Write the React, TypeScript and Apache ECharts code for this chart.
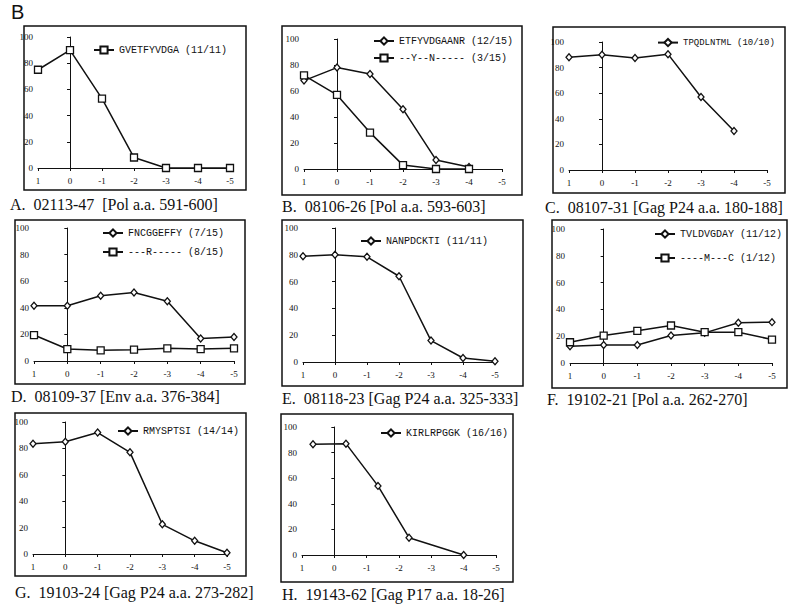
import React, { useEffect, useRef } from "react";
import * as echarts from "echarts";

// ---- data ----
const xTicks = [1, 0, -1, -2, -3, -4, -5];
const yTicks = [0, 20, 40, 60, 80, 100];

const aX = [1, 0, -1, -2, -3, -4, -5];
const aGVETFYVDGA = [75, 90, 53, 8, 0, 0, 0];

const bX = [1, 0, -1, -2, -3, -4];
const bETFYVDGAANR = [68, 78, 73, 46, 7, 1.5];
const bVariant = [72, 57, 28, 3, 0, 0];

const cX = [1, 0, -1, -2, -3, -4];
const cTPQDLNTML = [88, 90, 87.5, 90.5, 57, 30.5];

const dX = [1, 0, -1, -2, -3, -4, -5];
const dFNCGGEFFY = [41.5, 41.5, 49, 51.5, 45, 17, 18];
const dVariant = [19.5, 9, 8, 8.5, 9.5, 9, 9.5];

const eX = [1, 0, -1, -2, -3, -4, -5];
const eNANPDCKTI = [79, 80, 78.5, 64, 16, 3, 0.5];

const fX = [1, 0, -1, -2, -3, -4, -5];
const fTVLDVGDAY = [12.5, 13.5, 13.5, 20.5, 22.5, 30, 30.5];
const fVariant = [15.5, 20.5, 24, 28, 23, 23, 17.5];

const gX = [1, 0, -1, -2, -3, -4, -5];
const gRMYSPTSI = [83.5, 85, 92, 77, 22.5, 10, 1];

const hX = [0.66, -0.36, -1.35, -2.31, -4];
const hKIRLRPGGK = [86.5, 87, 54, 13.5, 0];

type S = { name: string; xs: number[]; ys: number[]; symbol: string; size: number | number[] };
type Panel = {
  series: S[];
  grid: [number, number, number, number];
  box: [number, number, number, number];
  caption: string;
  capPos: [number, number];
  legendPos: [number, number];
  legendGap: number;
  legendFont: number;
};

const panels: Panel[] = [
  {
    series: [{ name: "GVETFYVDGA (11/11)", xs: aX, ys: aGVETFYVDGA, symbol: "rect", size: 7 }],
    grid: [38, 37, 192, 131], box: [24, 26, 246, 190],
    caption: "A.  02113-47  [Pol a.a. 591-600]", capPos: [10, 204], legendPos: [88, 40],
    legendGap: 7, legendFont: 10,
  },
  {
    series: [
      { name: "ETFYVDGAANR (12/15)", xs: bX, ys: bETFYVDGAANR, symbol: "diamond", size: [6, 7] },
      { name: "--Y--N----- (3/15)", xs: bX, ys: bVariant, symbol: "rect", size: 7 },
    ],
    grid: [304, 39, 198, 130], box: [282, 26, 522, 195],
    caption: "B.  08106-26 [Pol a.a. 593-603]", capPos: [282, 206], legendPos: [368, 31],
    legendGap: 7, legendFont: 10,
  },
  {
    series: [{ name: "TPQDLNTML (10/10)", xs: cX, ys: cTPQDLNTML, symbol: "diamond", size: [6, 7] }],
    grid: [569, 42, 198, 128], box: [553, 27, 785, 193],
    caption: "C.  08107-31 [Gag P24 a.a. 180-188]", capPos: [545, 207], legendPos: [652, 33],
    legendGap: 7, legendFont: 9,
  },
  {
    series: [
      { name: "FNCGGEFFY (7/15)", xs: dX, ys: dFNCGGEFFY, symbol: "diamond", size: [6, 7] },
      { name: "---R----- (8/15)", xs: dX, ys: dVariant, symbol: "rect", size: 7 },
    ],
    grid: [34, 228, 200, 133], box: [15, 220, 245, 384],
    caption: "D.  08109-37 [Env a.a. 376-384]", capPos: [11, 396], legendPos: [97, 223],
    legendGap: 9, legendFont: 10,
  },
  {
    series: [{ name: "NANPDCKTI (11/11)", xs: eX, ys: eNANPDCKTI, symbol: "diamond", size: [6, 7] }],
    grid: [303, 228, 192, 134], box: [282, 220, 523, 386],
    caption: "E.  08118-23 [Gag P24 a.a. 325-333]", capPos: [282, 398], legendPos: [355, 231],
    legendGap: 7, legendFont: 10,
  },
  {
    series: [
      { name: "TVLDVGDAY (11/12)", xs: fX, ys: fTVLDVGDAY, symbol: "diamond", size: [6, 7] },
      { name: "----M---C (1/12)", xs: fX, ys: fVariant, symbol: "rect", size: 7 },
    ],
    grid: [570, 229, 202, 134], box: [552, 220, 787, 388],
    caption: "F.  19102-21 [Pol a.a. 262-270]", capPos: [547, 399], legendPos: [649, 224],
    legendGap: 14, legendFont: 10,
  },
  {
    series: [{ name: "RMYSPTSI (14/14)", xs: gX, ys: gRMYSPTSI, symbol: "diamond", size: [6, 7] }],
    grid: [33, 422, 194, 132], box: [15, 413, 246, 576],
    caption: "G.  19103-24 [Gag P24 a.a. 273-282]", capPos: [15, 592], legendPos: [112, 421],
    legendGap: 7, legendFont: 10,
  },
  {
    series: [{ name: "KIRLRPGGK (16/16)", xs: hX, ys: hKIRLRPGGK, symbol: "diamond", size: [6, 7] }],
    grid: [302, 427, 194, 128], box: [281, 414, 513, 582],
    caption: "H.  19143-62 [Gag P17 a.a. 18-26]", capPos: [282, 594], legendPos: [375, 423],
    legendGap: 7, legendFont: 10,
  },
];

const INK = "#111";

export default function App() {
  const ref = useRef<HTMLDivElement>(null);
  useEffect(() => {
    if (!ref.current) return;
    const chart = echarts.init(ref.current, undefined, { renderer: "svg" });
    const grid: any[] = [];
    const xAxis: any[] = [];
    const yAxis: any[] = [];
    const series: any[] = [];
    const legend: any[] = [];
    const graphic: any[] = [];

    graphic.push({
      type: "text", left: 11, top: 2,
      style: { text: "B", fontFamily: "Liberation Sans", fontSize: 20, fill: INK },
    });

    panels.forEach((p, i) => {
      grid.push({ left: p.grid[0], top: p.grid[1], width: p.grid[2], height: p.grid[3] });
      xAxis.push({
        type: "value", gridIndex: i, min: -5, max: 1, interval: 1, inverse: true,
        axisLine: { onZero: false, lineStyle: { color: INK, width: 1 } },
        axisTick: { show: true, length: 3, lineStyle: { color: INK } },
        axisLabel: { color: INK, fontFamily: "Liberation Serif", fontSize: 9, margin: 8,
          formatter: (v: number) => (xTicks.includes(v) ? String(v) : "") },
        splitLine: { show: false },
      });
      yAxis.push({
        type: "value", gridIndex: i, min: yTicks[0], max: yTicks[yTicks.length - 1], interval: 20,
        axisLine: { show: true, lineStyle: { color: INK, width: 1 } },
        axisTick: { show: true, length: 3, lineStyle: { color: INK } },
        axisLabel: { color: INK, fontFamily: "Liberation Serif", fontSize: 9, margin: 5 },
        splitLine: { show: false },
      });
      p.series.forEach((s) => {
        series.push({
          type: "line", name: s.name, xAxisIndex: i, yAxisIndex: i,
          data: s.xs.map((x, k) => [x, s.ys[k]]),
          symbol: s.symbol, symbolSize: s.size, showAllSymbol: true,
          lineStyle: { color: INK, width: 1.5 },
          itemStyle: { color: "#fff", borderColor: INK, borderWidth: 1.3 },
          emphasis: { disabled: true },
          z: 3,
        });
      });
      legend.push({
        data: p.series.map((s) => s.name),
        left: p.legendPos[0], top: p.legendPos[1], orient: "vertical",
        itemWidth: 20, itemHeight: 9, itemGap: p.legendGap, selectedMode: false,
        textStyle: { color: INK, fontFamily: "Liberation Mono", fontSize: p.legendFont },
      });
      const [x1, y1, x2, y2] = p.box;
      graphic.push({
        type: "rect", shape: { x: x1, y: y1, width: x2 - x1, height: y2 - y1 },
        style: { fill: "none", stroke: INK, lineWidth: 1.5 }, silent: true,
      });
      graphic.push({
        type: "text", x: p.capPos[0], y: p.capPos[1],
        style: { text: p.caption, fontFamily: "Liberation Serif", fontSize: 16, fill: INK,
          textVerticalAlign: "middle" },
      });
    });

    chart.setOption({
      animation: false,
      backgroundColor: "#fff",
      grid, xAxis, yAxis, series, legend, graphic,
    });
    return () => chart.dispose();
  }, []);
  return (
    <div
      ref={ref}
      style={{ position: "fixed", left: 0, top: 0, width: 800, height: 607 }}
    />
  );
}
